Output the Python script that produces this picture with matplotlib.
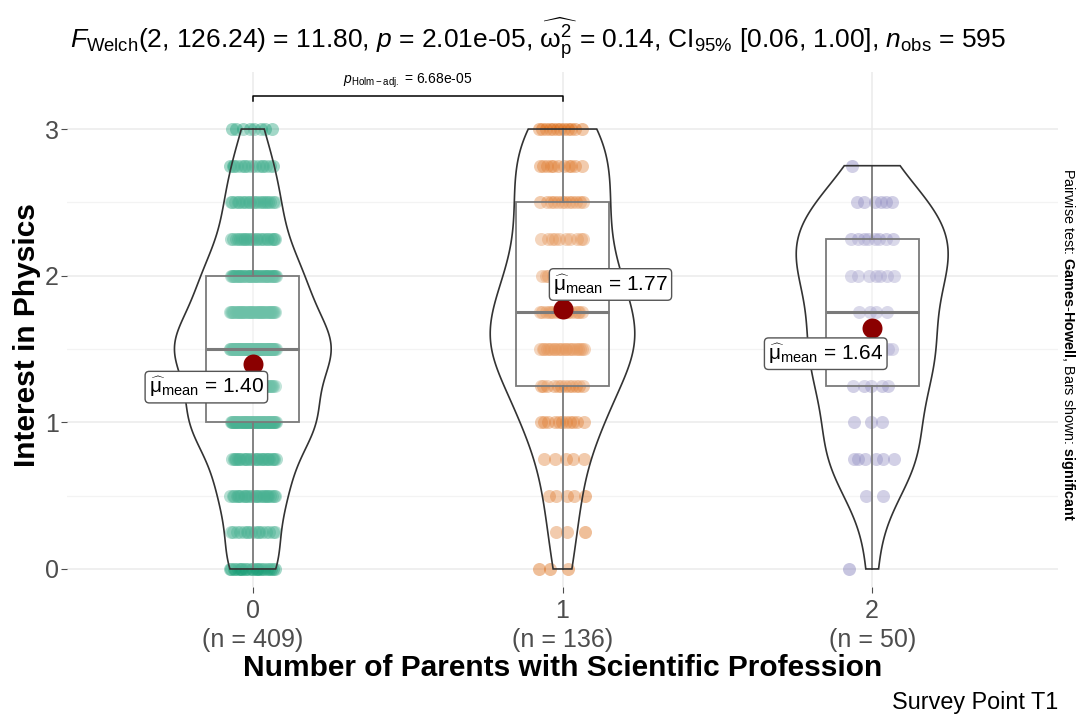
import numpy as np
import matplotlib.pyplot as plt
from matplotlib.patches import Polygon, Rectangle

plt.rcParams['font.family'] = ['Liberation Sans', 'DejaVu Sans']
plt.rcParams['mathtext.fontset'] = 'custom'
plt.rcParams['mathtext.rm'] = 'Liberation Sans'
plt.rcParams['mathtext.it'] = 'Liberation Sans:italic'
plt.rcParams['mathtext.bf'] = 'Liberation Sans:bold'

# ---------------------------------------------------------
# Data: answers on a 0-3 scale (steps of 0.25), counts per level
# ---------------------------------------------------------
groups = ["0", "1", "2"]
levels = [0, 0.25, 0.5, 0.75, 1.0, 1.25, 1.5, 1.75, 2.0, 2.25, 2.5, 2.75, 3.0]
counts_0 = [24, 16, 27, 28, 55, 39, 70, 42, 40, 23, 21, 16, 8]
counts_1 = [3, 3, 5, 5, 11, 12, 21, 17, 14, 10, 12, 11, 12]
counts_2 = [1, 0, 2, 6, 3, 5, 7, 4, 7, 8, 6, 1, 0]
group_counts = [counts_0, counts_1, counts_2]

colors = ["#1B9E77", "#D95F02", "#7570B3"]

title = (r"$F_{\mathrm{Welch}}$(2, 126.24) = 11.80, $p$ = 2.01e-05, "
         r"$\widehat{\mathrm{\omega}_{\mathrm{p}}^{2}}$ = 0.14, "
         r"CI$_{\mathrm{95\%}}$ [0.06, 1.00], $n_{\mathrm{obs}}$ = 595")
pair_label = r"$p_{\mathrm{Holm-adj.}}$ = 6.68e-05"
pair = (0, 1)

# label positions for the mean labels (data coords)
label_pos = [(-0.15, 1.24), (1.155, 1.94), (1.85, 1.468)]


def kde(vals, grid):
    n = len(vals)
    sd = vals.std(ddof=1)
    q1, q3 = np.percentile(vals, [25, 75])
    bw = 0.9 * min(sd, (q3 - q1) / 1.34) * n ** -0.2
    z = (grid[:, None] - vals[None, :]) / bw
    return np.exp(-0.5 * z ** 2).sum(axis=1) / (n * bw * np.sqrt(2 * np.pi))


data = [np.repeat(levels, c) for c in group_counts]

fig = plt.figure(figsize=(10.81, 7.15), dpi=100)
ax = fig.add_axes([67 / 1081, 1 - 587 / 715, (1058 - 67) / 1081, (587 - 72) / 715])

ax.set_xlim(-0.6, 2.6)
ax.set_ylim(-0.123, 3.389)

# grid
for y in [0, 1, 2, 3]:
    ax.axhline(y, color="#EBEBEB", lw=1.1, zorder=0)
for y in [0.5, 1.5, 2.5]:
    ax.axhline(y, color="#F3F3F3", lw=0.9, zorder=0)
for x in range(3):
    ax.axvline(x, color="#EBEBEB", lw=1.1, zorder=0)

# jittered points (deterministic spread)
for i, (vals, cnts) in enumerate(zip(data, group_counts)):
    xs, ys = [], []
    for j, (lv, c) in enumerate(zip(levels, cnts)):
        k = np.arange(c)
        off = ((k * 0.6180339 + j * 0.37) % 1.0 - 0.5) * 0.15
        xs.extend(i + off)
        ys.extend([lv] * c)
    ax.scatter(xs, ys, s=88, color=colors[i], alpha=0.4, linewidths=0, zorder=2)

# violins
dens_all = []
grids = []
for vals in data:
    g = np.linspace(vals.min(), vals.max(), 512)
    grids.append(g)
    dens_all.append(kde(vals, g))
gmax = max(d.max() for d in dens_all)
for i, (g, d) in enumerate(zip(grids, dens_all)):
    half = d / gmax * 0.253
    xy = np.concatenate([np.column_stack([i - half, g]),
                         np.column_stack([i + half, g])[::-1]])
    ax.add_patch(Polygon(xy, closed=True, facecolor=(1, 1, 1, 0.2),
                         edgecolor="#333333", lw=1.2, zorder=4))

# boxplots
for i, vals in enumerate(data):
    q1, med, q3 = np.percentile(vals, [25, 50, 75])
    iqr = q3 - q1
    lo = vals[vals >= q1 - 1.5 * iqr].min()
    hi = vals[vals <= q3 + 1.5 * iqr].max()
    ax.add_patch(Rectangle((i - 0.15, q1), 0.3, q3 - q1, facecolor=(1, 1, 1, 0.2),
                           edgecolor="#5A5A5A", lw=1.3, zorder=3))
    ax.plot([i - 0.15, i + 0.15], [med, med], color="#5A5A5A", lw=2.2, zorder=3,
            solid_capstyle="butt")
    ax.plot([i, i], [q3, hi], color="#5A5A5A", lw=1.3, zorder=3)
    ax.plot([i, i], [lo, q1], color="#5A5A5A", lw=1.3, zorder=3)

# means and labels
for i, vals in enumerate(data):
    m = vals.mean()
    ax.scatter([i], [m], s=207, color="#8B0000", zorder=6, linewidths=0)
    lx, ly = label_pos[i]
    ax.text(lx, ly, r"$\widehat{\mathrm{\mu}}_{\mathrm{mean}}$ = %.2f" % m,
            fontsize=15, ha="center", va="center", zorder=7,
            bbox=dict(boxstyle="round,pad=0.18,rounding_size=0.2", facecolor="white",
                      edgecolor="#555555", lw=1.0))

# pairwise bar
a, b = pair
ax.plot([a, a, b, b], [3.19, 3.225, 3.225, 3.19], color="black", lw=1.1,
        clip_on=False, zorder=5)
ax.text((a + b) / 2, 3.265, pair_label, fontsize=10, ha="center", va="bottom")

# axes styling
for s in ax.spines.values():
    s.set_visible(False)
ax.set_yticks([0, 1, 2, 3])
ax.set_yticklabels(["0", "1", "2", "3"])
ax.set_xticks(range(3))
ax.set_xticklabels([f"{g}\n(n = {len(v)})" for g, v in zip(groups, data)],
                   linespacing=1.25)
ax.tick_params(axis="both", colors="#4D4D4D", labelcolor="#4D4D4D", labelsize=18,
               length=4, width=0.8)
ax.tick_params(axis="y", pad=2)
ax.tick_params(axis="x", pad=5)

fig.text(538 / 1081, 1 - 38 / 715, title, fontsize=19, ha="center", va="center")
fig.text(563 / 1081, 1 - 668 / 715, "Number of Parents with Scientific Profession",
         fontsize=21.5, fontweight="bold", ha="center", va="center")
fig.text(27 / 1081, 1 - 335 / 715, "Interest in Physics", fontsize=21.5,
         fontweight="bold", rotation=90, ha="center", va="center")
fig.text(1058 / 1081, 1 - 703 / 715, "Survey Point T1", fontsize=16.8,
         ha="right", va="center")
fig.text(1068 / 1081, 1 - 345 / 715,
         r"Pairwise test: $\mathbf{Games}$-$\mathbf{Howell}$, Bars shown: $\mathbf{significant}$",
         fontsize=10.4, rotation=270, ha="center", va="center")

fig.savefig("out.png", dpi=100)
